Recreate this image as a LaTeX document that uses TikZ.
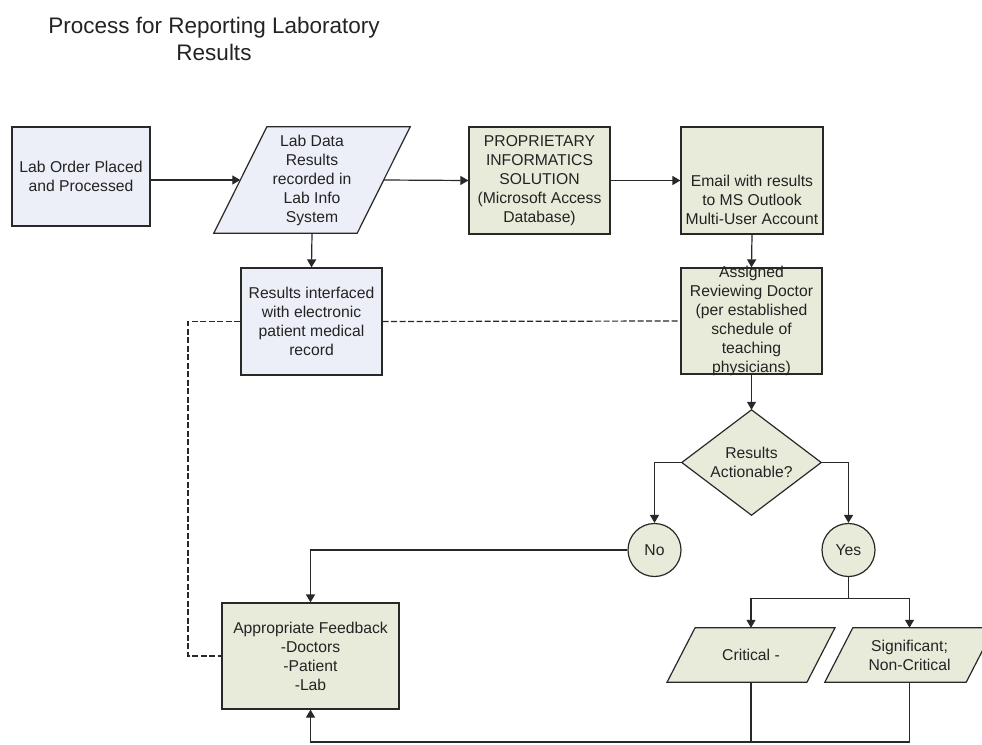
\documentclass[tikz,border=0pt]{standalone}
\usepackage{fontspec}
\setmainfont{Liberation Sans}
\usetikzlibrary{arrows.meta,backgrounds,calc}
\definecolor{bluef}{RGB}{237,239,248}
\definecolor{greenf}{RGB}{233,235,218}
\definecolor{linec}{RGB}{40,40,40}
\definecolor{textc}{RGB}{35,35,35}
\tikzset{
  base/.style={align=center, inner sep=0pt, text=textc, font=\fontsize{15.7}{19}\selectfont},
  bluebox/.style={base, draw=linec, fill=bluef, line width=1.2pt},
  greenbox/.style={base, draw=linec, fill=greenf, line width=1.2pt},
  plain/.style={base},
  circ/.style={base, circle, draw=linec, fill=greenf, line width=1.2pt, minimum size=53pt},
  conn/.style={draw=linec, line width=1.2pt},
  arr/.style={conn, -{Triangle[length=8pt,width=9pt]}},
  dashline/.style={conn, dash pattern=on 6pt off 2.5pt},
  outl/.style={draw=linec, line width=1.2pt, line join=miter},
}
\begin{document}
\begin{tikzpicture}[x=1pt,y=-1pt]
\path[use as bounding box] (0,0) rectangle (982,744);

% title
\node[align=center, text=textc, font=\fontsize{22.5}{27}\selectfont, inner sep=0pt] (title) at (214,38.5) {Process for Reporting Laboratory\\Results};

% nodes
\node[bluebox, minimum width=138pt, minimum height=99pt] (b1) at (81,176.5) {Lab Order Placed\\and Processed};
\node[plain, minimum width=143pt, minimum height=106pt] (p2) at (312,180) {Lab Data\\Results\\recorded in\\Lab Info\\System};
\node[greenbox, minimum width=141pt, minimum height=107pt] (b3) at (539.5,180.5) {PROPRIETARY\\INFORMATICS\\SOLUTION\\(Microsoft Access\\Database)};
\node[greenbox, minimum width=142pt, minimum height=107pt] (b4) at (752,180.5) {};
\node[plain] (b4t) at ($(b4.center)+(0,19.5)$) {Email with results\\to MS Outlook\\Multi-User Account};
\node[bluebox, minimum width=141pt, minimum height=107pt] (b5) at (311.5,321.5) {Results interfaced\\with electronic\\patient medical\\record};
\node[greenbox, minimum width=141pt, minimum height=106pt] (b6) at (751.5,321) {};
\node[plain] (b6t) at (b6.center) {Assigned\\Reviewing Doctor\\(per established\\schedule of\\teaching\\physicians)};
\node[plain, minimum width=139pt, minimum height=105pt] (d) at (751.5,462.5) {Results\\Actionable?};
\node[circ] (no) at (654.5,550) {No};
\node[circ] (yes) at (848.5,550) {Yes};
\node[greenbox, minimum width=177pt, minimum height=106pt] (fb) at (310.5,656) {Appropriate Feedback\\-Doctors\\-Patient\\-Lab};
\node[plain, minimum width=139.5pt, minimum height=54pt] (crit) at (751,655) {Critical -};
\node[plain, minimum width=141pt, minimum height=54pt] (sig) at (909.5,655) {Significant;\\Non-Critical};

% outlines of parallelograms and diamond
\begin{scope}[on background layer]
  \draw[outl, fill=bluef] ($(p2.north west)+(26.5,0)$) -- ($(p2.north east)+(26.5,0)$) -- ($(p2.south east)+(-26.5,0)$) -- ($(p2.south west)+(-26.5,0)$) -- cycle;
  \draw[outl, fill=greenf] ($(crit.north west)+(14,0)$) -- ($(crit.north east)+(14,0)$) -- ($(crit.south east)+(-14,0)$) -- ($(crit.south west)+(-14,0)$) -- cycle;
  \draw[outl, fill=greenf] ($(sig.north west)+(14,0)$) -- ($(sig.north east)+(14,0)$) -- ($(sig.south east)+(-14,0)$) -- ($(sig.south west)+(-14,0)$) -- cycle;
  \draw[outl, fill=greenf] (d.north) -- (d.east) -- (d.south) -- (d.west) -- cycle;
\end{scope}

% connectors
\coordinate (dl) at (188,321);
\coordinate (bot) at (310.5,742);
\draw[arr] (p2.west -| b1.east) -- (p2.west);
\draw[arr] (p2.east) -- (b3.west);
\draw[arr] (b3.east) -- (b4.west);
\draw[arr] (p2.south) -- (b5.north);
\draw[arr] (b4.south) -- (b6.north);
\draw[arr] (b6.south) -- (d.north);
\draw[arr] (d.west) -| (no.north);
\draw[arr] (d.east) -| (yes.north);
\draw[arr] (no.west) -| (fb.north);
\draw[conn] (yes.south) -- ++(0,21) coordinate (split);
\draw[arr] (split) -| (crit.north);
\draw[arr] (split) -| (sig.north);
\draw[conn] (crit.south) -- (crit.south |- bot);
\draw[arr] (sig.south) -- (sig.south |- bot) -- (bot) -- (fb.south);
\draw[dashline] (b5.west) -- (b5.west -| dl) -- (fb.west -| dl) -- (fb.west);
\draw[dashline] (b5.east) -- (b6.west);
\end{tikzpicture}
\end{document}
